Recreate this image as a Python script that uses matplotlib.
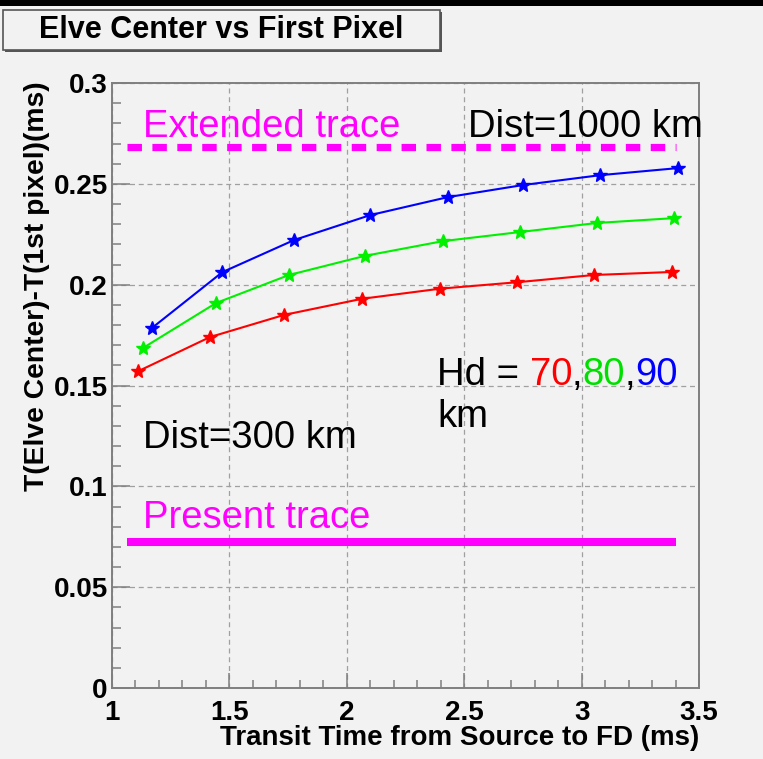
import matplotlib.pyplot as plt
from matplotlib.patches import Rectangle
from matplotlib.ticker import MultipleLocator

plt.rcParams['font.family'] = ['Liberation Sans', 'DejaVu Sans']

# (x = transit time, y = time difference)
x_red = [1.11, 1.417, 1.733, 2.065, 2.397, 2.725, 3.053, 3.385]
y_red = [0.157, 0.174, 0.185, 0.193, 0.198, 0.2012, 0.2048, 0.2063]
x_green = [1.132, 1.443, 1.754, 2.078, 2.41, 2.738, 3.066, 3.394]
y_green = [0.1686, 0.1909, 0.2048, 0.2143, 0.2216, 0.2261, 0.2306, 0.2330]
x_blue = [1.17, 1.47, 1.775, 2.10, 2.43, 2.75, 3.08, 3.41]
y_blue = [0.1785, 0.2062, 0.2221, 0.2345, 0.2434, 0.2494, 0.2543, 0.2578]

trace_x = [1.064, 3.40]
extended_y = 0.2683
present_y = 0.0724

bg = '#f2f2f2'
gray = '#7f7f7f'

fig = plt.figure(figsize=(7.63, 7.59), dpi=100, facecolor=bg)
ax = fig.add_axes([112/763, 71/759, 587/763, 605/759], facecolor=bg)

ax.plot(trace_x, [extended_y, extended_y], color='#ff00ff', lw=5.2,
        dashes=(2.0, 1.45), solid_capstyle='butt', dash_capstyle='butt')
ax.plot(trace_x, [present_y, present_y], color='#ff00ff', lw=5.8, solid_capstyle='butt')

ax.plot(x_red, y_red, color='#ff0000', lw=1.5, marker='*', ms=10)
ax.plot(x_green, y_green, color='#00f000', lw=1.5, marker='*', ms=10)
ax.plot(x_blue, y_blue, color='#0000ff', lw=1.5, marker='*', ms=10)

ax.set_xlim(1, 3.5)
ax.set_ylim(0, 0.3)
ax.xaxis.set_major_locator(MultipleLocator(0.5))
ax.xaxis.set_minor_locator(MultipleLocator(0.1))
ax.yaxis.set_major_locator(MultipleLocator(0.05))
ax.yaxis.set_minor_locator(MultipleLocator(0.01))
ax.set_xticks([1, 1.5, 2, 2.5, 3, 3.5])
ax.set_xticklabels(['1', '1.5', '2', '2.5', '3', '3.5'])
ax.set_yticks([0, 0.05, 0.1, 0.15, 0.2, 0.25, 0.3])
ax.set_yticklabels(['0', '0.05', '0.1', '0.15', '0.2', '0.25', '0.3'])
ax.grid(True, which='major', color='#a0a0a0', lw=0.9, ls=(0, (4, 3)))
ax.set_axisbelow(True)

for s in ax.spines.values():
    s.set_color(gray)
    s.set_linewidth(1.4)
ax.tick_params(axis='both', which='both', direction='in', color=gray, width=1.1,
               labelsize=20)
ax.tick_params(axis='x', which='major', length=11, pad=8.5)
ax.tick_params(axis='x', which='minor', length=5.5)
ax.tick_params(axis='y', which='major', length=13, pad=3)
ax.tick_params(axis='y', which='minor', length=6.5)
for lab in ax.get_xticklabels() + ax.get_yticklabels():
    lab.set_fontweight('bold')

ax.text(1.0, -0.083, 'Transit Time from Source to FD (ms)', transform=ax.transAxes,
        ha='right', va='center', fontsize=20, fontweight='bold')
ax.text(-0.128, 1.003, 'T(Elve Center)-T(1st pixel)(ms)', transform=ax.transAxes,
        ha='center', va='top', rotation=90, fontsize=20.3, fontweight='bold')

ax.text(1.132, 0.2732, 'Extended trace', color='#ff00ff', fontsize=27.5, va='baseline')
ax.text(2.516, 0.2732, 'Dist=1000 km', color='black', fontsize=27.5, va='baseline')
ax.text(1.132, 0.119, 'Dist=300 km', color='black', fontsize=27.5, va='baseline')
ax.text(1.132, 0.0793, 'Present trace', color='#ff00ff', fontsize=27.5, va='baseline')

t0 = ax.text(2.384, 0.1502, 'Hd = ', color='black', fontsize=27.5, va='baseline')
t1 = ax.annotate('70', xy=(1, 0), xycoords=t0, va='bottom', ha='left', color='#ff0000', fontsize=27.5)
t2 = ax.annotate(',', xy=(1, 0), xycoords=t1, va='bottom', ha='left', color='black', fontsize=27.5)
t3 = ax.annotate('80', xy=(1, 0), xycoords=t2, va='bottom', ha='left', color='#00e000', fontsize=27.5)
t4 = ax.annotate(',', xy=(1, 0), xycoords=t3, va='bottom', ha='left', color='black', fontsize=27.5)
t5 = ax.annotate('90', xy=(1, 0), xycoords=t4, va='bottom', ha='left', color='#0000ff', fontsize=27.5)
ax.text(2.384, 0.1294, 'km', color='black', fontsize=27.5, va='baseline')

# title box with shadow, top black strip
fig.patches.append(Rectangle((5/763, 1 - 52/759), 437/763, 40/759, transform=fig.transFigure,
                             facecolor='#555555', edgecolor='none', zorder=1))
fig.patches.append(Rectangle((3/763, 1 - 50/759), 437/763, 40/759, transform=fig.transFigure,
                             facecolor=bg, edgecolor='#555555', lw=1.2, zorder=2))
fig.text(221/763, 1 - 30/759, 'Elve Center vs First Pixel', ha='center', va='center',
         fontsize=22, fontweight='bold', zorder=3)
fig.patches.append(Rectangle((0, 1 - 6/759), 1, 6/759, transform=fig.transFigure,
                             facecolor='black', edgecolor='none', zorder=4))

fig.savefig('out.png', dpi=100, facecolor=bg)
